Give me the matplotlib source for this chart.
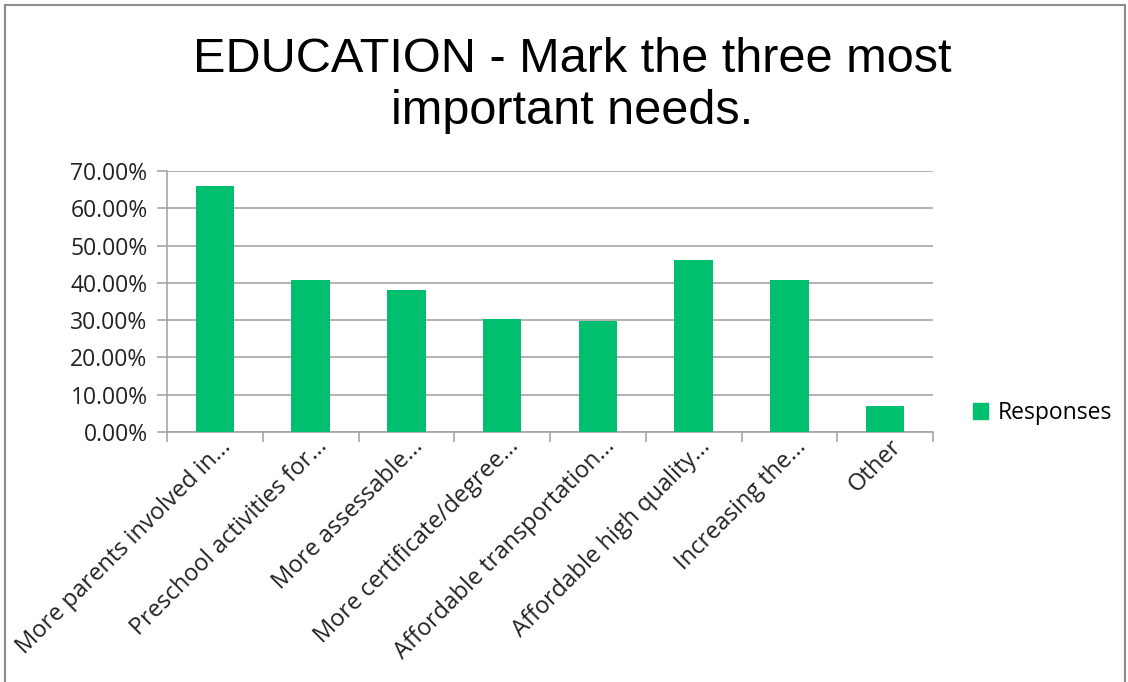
import matplotlib.pyplot as plt
import matplotlib.patches as mpatches
import matplotlib.transforms as mtransforms
import numpy as np

categories = [
    "More parents involved in...",
    "Preschool activities for...",
    "More assessable...",
    "More certificate/degree...",
    "Affordable transportation...",
    "Affordable high quality...",
    "Increasing the...",
    "Other",
]
responses = [66.0, 40.9, 38.2, 30.3, 29.8, 46.2, 40.7, 7.0]
y_ticks = [0, 10, 20, 30, 40, 50, 60, 70]

BAR_COLOR = "#00BF6F"
GRID_COLOR = "#A6A6A6"
TEXT_COLOR = "#222222"
FS = 16.5

plt.rcParams['font.family'] = ['Open Sans', 'DejaVu Sans']

fig = plt.figure(figsize=(11.28, 6.82), dpi=100)
ax = fig.add_axes([167 / 1128, 1 - 432 / 682, (933 - 167) / 1128, (432 - 171) / 682])

x = np.arange(len(categories))
ax.bar(x, responses, width=0.4, color=BAR_COLOR, label="Responses", zorder=3)

ax.set_xlim(-0.5, len(categories) - 0.5)
ax.set_ylim(0, 70)
ax.set_yticks(y_ticks)
ax.set_yticklabels([f"{v:.2f}%" for v in y_ticks], fontsize=FS, color=TEXT_COLOR)
ax.yaxis.grid(True, color=GRID_COLOR, linewidth=1.2, zorder=0)

ax.set_xticks(x)
ax.set_xticklabels(categories, rotation=45, ha='right', va='center',
                   rotation_mode='anchor', fontsize=17, color=TEXT_COLOR)
ax.set_xticks(np.arange(-0.5, len(categories)), minor=True)
ax.tick_params(axis='x', which='major', length=0, pad=8)
ax.tick_params(axis='x', which='minor', length=7, color=GRID_COLOR, width=1.2)
ax.tick_params(axis='y', length=7, color=GRID_COLOR, width=1.2, pad=7)

# nudge the rotated labels to the right, like the original
shift = mtransforms.ScaledTranslation(13 / 100, 0, fig.dpi_scale_trans)
for lbl in ax.get_xticklabels():
    lbl.set_transform(lbl.get_transform() + shift)

for side in ['top', 'right']:
    ax.spines[side].set_visible(False)
for side in ['left', 'bottom']:
    ax.spines[side].set_color(GRID_COLOR)
    ax.spines[side].set_linewidth(1.2)

fig.text(572 / 1128, 1 - 86 / 682, "EDUCATION - Mark the three most\nimportant needs.",
         ha='center', va='center', fontsize=35, family='Liberation Sans',
         linespacing=1.2, color='black')

fig.legend(handles=[mpatches.Patch(color=BAR_COLOR, label="Responses")],
           loc='center left', bbox_to_anchor=(973 / 1128, 1 - 413 / 682),
           frameon=False, fontsize=FS, handlelength=0.65, handleheight=0.65,
           handletextpad=0.45, borderpad=0, borderaxespad=0)

# outer chart frame
fig.patches.append(mpatches.Rectangle((5 / 1128, -0.01), 1120 / 1128, 1 - 5 / 682 + 0.01,
                                      transform=fig.transFigure, fill=False,
                                      edgecolor='#8C8C8C', linewidth=1.5))

fig.savefig("out.png", dpi=100)
